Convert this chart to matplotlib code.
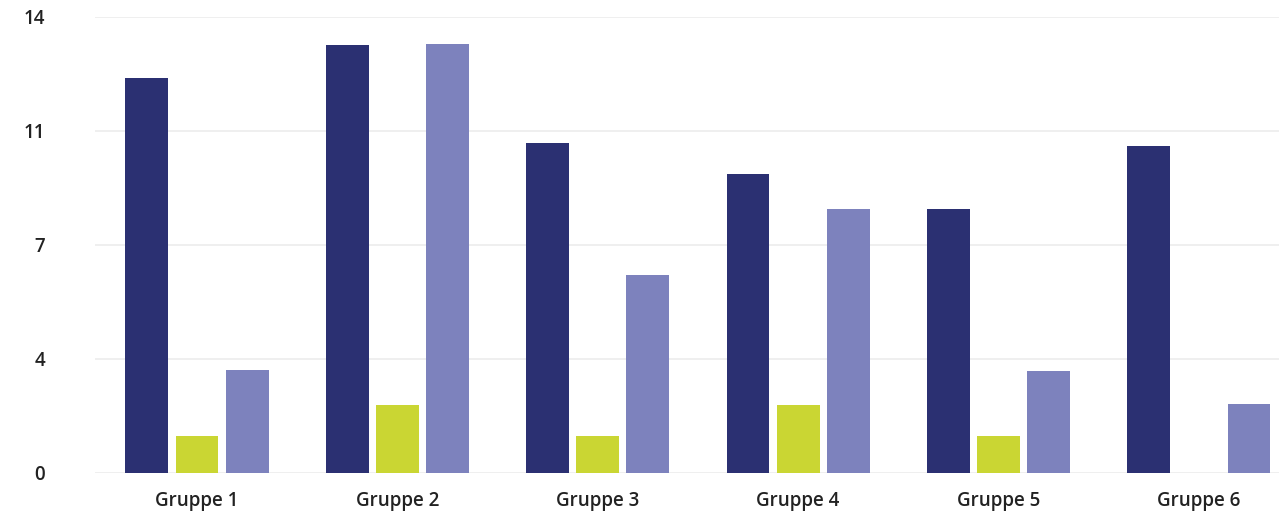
import numpy as np
import matplotlib
matplotlib.use("Agg")
import matplotlib.pyplot as plt

# Daten
gruppen = ["Gruppe 1", "Gruppe 2", "Gruppe 3", "Gruppe 4", "Gruppe 5", "Gruppe 6"]
serie_dunkel = [12.13, 13.14, 10.13, 9.18, 8.1, 10.05]
serie_gruen = [1.13, 2.1, 1.13, 2.1, 1.13, 0]
serie_hell = [3.16, 13.17, 6.08, 8.1, 3.12, 2.13]
y_ticks = [0, 3.5, 7, 10.5, 14]
y_labels = ["0", "4", "7", "11", "14"]

farben = ["#2b3072", "#cad633", "#7d82bd"]

plt.rcParams["font.family"] = ["Open Sans", "DejaVu Sans"]

fig = plt.figure(figsize=(12.79, 5.18), dpi=100)
ax = fig.add_axes([0.0743, 0.0869, 0.9257, 0.8803])

x = np.arange(len(gruppen))
breite = 0.214
abstand = 0.25

for i, (werte, farbe) in enumerate(zip([serie_dunkel, serie_gruen, serie_hell], farben)):
    ax.bar(x + (i - 1) * abstand, werte, width=breite, color=farbe,
           linewidth=0, zorder=3)

ax.set_xlim(-0.509, 5.40)
ax.set_ylim(0, 14)
ax.set_yticks(y_ticks)
ax.set_yticklabels(y_labels)
ax.set_xticks(x)
ax.set_xticklabels(gruppen)

ax.grid(axis="y", color="#ececec", linewidth=1.2, zorder=0)
for s in ax.spines.values():
    s.set_visible(False)
ax.tick_params(axis="both", length=0, labelsize=13.5, labelcolor="#222222")
ax.tick_params(axis="y", pad=36)
ax.tick_params(axis="x", pad=13)
for lbl in ax.get_xticklabels() + ax.get_yticklabels():
    lbl.set_fontweight("semibold")

fig.savefig("out.png", dpi=100)
